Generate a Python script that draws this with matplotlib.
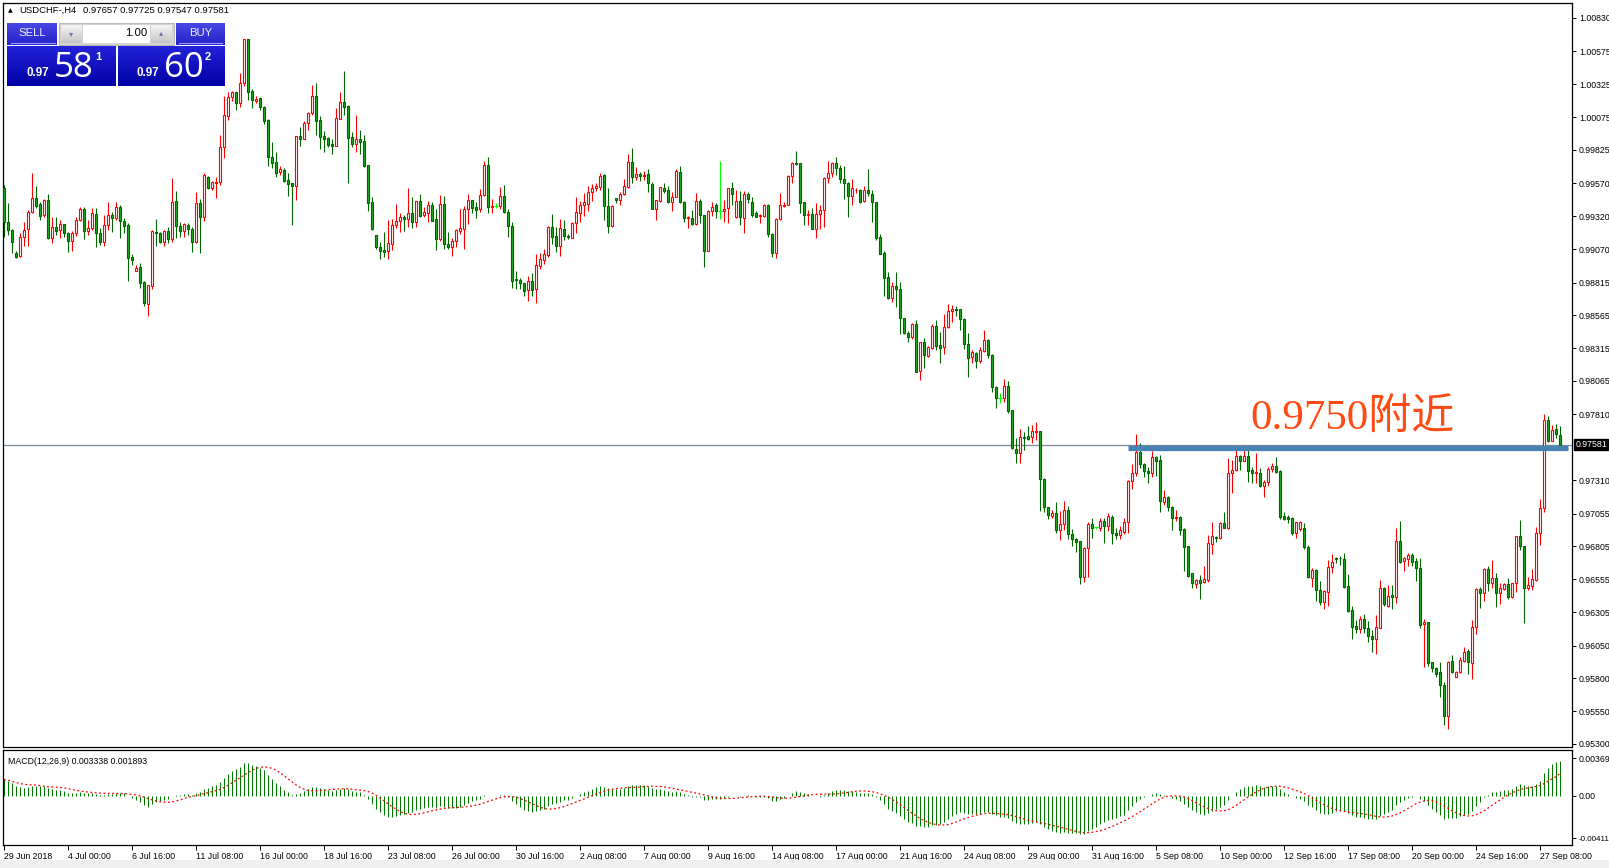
import numpy as np
import matplotlib
matplotlib.use("Agg")
import matplotlib.pyplot as plt
from matplotlib.patches import Rectangle

# ---- data (prices in points, 1 point = 0.00001) ----
symbol = "USDCHF-,H4"
header_ohlc = "0.97657 0.97725 0.97547 0.97581"
bid_price = 0.97581
resistance = 0.97551
resistance_from, resistance_to = 281, 391
note_text = "0.9750附近"

opens = [
    99533, 99279, 99216, 99038, 99018, 99165, 99221, 99350, 99457, 99414,
    99330, 99444, 99152, 99241, 99216, 99259, 99190, 99129, 99190, 99292,
    99376, 99208, 99228, 99338, 99190, 99127, 99254, 99330, 99305, 99391,
    99284, 99254, 99010, 98906, 98931, 98817, 98654, 98792, 99203, 99190,
    99124, 99205, 99145, 99434, 99249, 99208, 99254, 99221, 99127, 99419,
    99317, 99622, 99538, 99574, 99579, 99845, 100086, 100231, 100264, 100186,
    100333, 100668, 100272, 100201, 100218, 100150, 100054, 99772, 99731, 99654,
    99672, 99593, 99571, 99548, 99929, 99911, 100028, 100109, 100236, 100053,
    99929, 99913, 99870, 99857, 100063, 100190, 100160, 99921, 99868, 99906,
    99893, 99708, 99426, 99175, 99088, 99060, 99053, 99111, 99256, 99281,
    99314, 99296, 99342, 99276, 99433, 99329, 99342, 99403, 99296, 99144,
    99411, 99111, 99088, 99129, 99210, 99220, 99372, 99441, 99390, 99372,
    99479, 99710, 99388, 99398, 99400, 99471, 99352, 99248, 98842, 98834,
    98809, 98758, 98827, 98763, 98943, 98987, 99025, 99236, 99167, 99094,
    99223, 99172, 99157, 99269, 99348, 99406, 99416, 99502, 99535, 99540,
    99634, 99398, 99249, 99457, 99446, 99487, 99546, 99733, 99622, 99642,
    99624, 99642, 99568, 99373, 99439, 99533, 99518, 99431, 99469, 99655,
    99429, 99304, 99304, 99261, 99434, 99327, 99058, 99358, 99406, 99363,
    99358, 99381, 99533, 99317, 99436, 99309, 99490, 99429, 99342, 99322,
    99325, 99406, 99183, 99038, 99297, 99401, 99406, 99627, 99728, 99723,
    99426, 99327, 99335, 99220, 99335, 99365, 99609, 99647, 99723, 99685,
    99602, 99571, 99475, 99518, 99518, 99439, 99518, 99490, 99426, 99160,
    99038, 98858, 98700, 98789, 98766, 98543, 98434, 98403, 98500, 98144,
    98363, 98258, 98319, 98484, 98340, 98322, 98474, 98596, 98614, 98611,
    98538, 98345, 98246, 98279, 98220, 98297, 98378, 98263, 98022, 97938,
    97933, 98027, 97842, 97548, 97514, 97636, 97647, 97636, 97680, 97685,
    97317, 97103, 97037, 97063, 96928, 96974, 97083, 96897, 96861, 96846,
    96569, 96795, 96973, 96950, 96948, 96998, 96963, 97031, 96904, 96892,
    96917, 96988, 97303, 97361, 97527, 97433, 97379, 97361, 97483, 97463,
    97146, 97179, 97108, 97019, 97026, 96937, 96808, 96600, 96521, 96546,
    96534, 96549, 96826, 96876, 96866, 96981, 96948, 97361, 97387, 97493,
    97458, 97493, 97387, 97361, 97364, 97268, 97298, 97392, 97420, 97382,
    97034, 97029, 97019, 96904, 96940, 96945, 96803, 96567, 96625, 96470,
    96379, 96460, 96645, 96719, 96719, 96706, 96501, 96320, 96196, 96178,
    96254, 96186, 96122, 96102, 96186, 96485, 96351, 96432, 96417, 96843,
    96696, 96706, 96739, 96694, 96638, 96211, 96227, 95922, 95876, 95846,
    95749, 95516, 95932, 95813, 95848, 95935, 96008, 95919, 96194, 96478,
    96447, 96630, 96523, 96562, 96447, 96483, 96516, 96422, 96529, 96884,
    96808, 96490, 96506, 96549, 96904, 97095, 97768, 97610, 97699, 97657,
]
highs = [
    99558, 99419, 99221, 99058, 99190, 99279, 99368, 99647, 99551, 99431,
    99452, 99490, 99317, 99317, 99292, 99259, 99203, 99208, 99317, 99393,
    99393, 99292, 99381, 99381, 99228, 99330, 99431, 99355, 99426, 99406,
    99305, 99266, 99033, 98949, 98962, 98830, 98797, 99216, 99299, 99203,
    99216, 99241, 99609, 99513, 99279, 99272, 99266, 99241, 99508, 99449,
    99647, 99627, 99591, 99622, 99939, 100236, 100264, 100277, 100269, 100409,
    100668, 100668, 100287, 100236, 100231, 100160, 100059, 99883, 99807, 99703,
    99685, 99647, 99576, 99929, 100002, 100048, 100117, 100320, 100335, 100083,
    99969, 99921, 99911, 100144, 100266, 100426, 100167, 99964, 100091, 99977,
    99939, 99708, 99464, 99177, 99126, 99197, 99291, 99296, 99413, 99342,
    99329, 99535, 99466, 99433, 99489, 99393, 99438, 99431, 99372, 99479,
    99471, 99200, 99152, 99220, 99375, 99398, 99489, 99444, 99426, 99527,
    99743, 99771, 99451, 99418, 99543, 99558, 99372, 99276, 98903, 98852,
    98811, 98867, 98890, 99032, 99037, 99070, 99248, 99337, 99241, 99297,
    99292, 99188, 99276, 99469, 99439, 99495, 99551, 99566, 99576, 99647,
    99642, 99533, 99403, 99462, 99508, 99606, 99794, 99840, 99693, 99660,
    99667, 99678, 99581, 99444, 99546, 99576, 99553, 99508, 99678, 99706,
    99436, 99325, 99368, 99495, 99449, 99332, 99368, 99431, 99419, 99741,
    99444, 99538, 99581, 99520, 99515, 99515, 99508, 99469, 99363, 99337,
    99414, 99414, 99190, 99304, 99495, 99431, 99634, 99736, 99817, 99728,
    99431, 99368, 99386, 99424, 99406, 99617, 99741, 99731, 99774, 99711,
    99703, 99579, 99604, 99538, 99525, 99551, 99680, 99520, 99429, 99183,
    99058, 98898, 98822, 98898, 98822, 98548, 98446, 98507, 98530, 98365,
    98396, 98335, 98502, 98530, 98441, 98576, 98652, 98644, 98639, 98616,
    98543, 98429, 98302, 98289, 98322, 98454, 98385, 98271, 98030, 97971,
    98081, 98068, 97845, 97634, 97700, 97680, 97723, 97730, 97756, 97685,
    97324, 97108, 97083, 97146, 97075, 97154, 97113, 96935, 96871, 96848,
    96800, 96993, 97024, 96955, 97019, 97019, 97062, 97041, 96942, 96960,
    97024, 97308, 97433, 97661, 97590, 97438, 97412, 97534, 97493, 97501,
    97235, 97189, 97113, 97082, 97036, 96942, 96810, 96605, 96557, 96584,
    96658, 96892, 96991, 96881, 96988, 97069, 97476, 97463, 97539, 97501,
    97577, 97570, 97412, 97514, 97400, 97311, 97412, 97438, 97483, 97387,
    97069, 97044, 97026, 96993, 97001, 96981, 96816, 96638, 96630, 96541,
    96473, 96701, 96747, 96727, 96732, 96752, 96595, 96351, 96244, 96275,
    96287, 96239, 96168, 96282, 96549, 96498, 96511, 96511, 96948, 96998,
    96727, 96752, 96752, 96719, 96714, 96252, 96232, 95927, 95889, 95922,
    95775, 95932, 95978, 95856, 95965, 96041, 96021, 96244, 96485, 96498,
    96643, 96658, 96701, 96605, 96529, 96529, 96562, 96529, 96884, 97006,
    96810, 96574, 96630, 96955, 97166, 97811, 97798, 97730, 97737, 97725,
]
lows = [
    99165, 99178, 99038, 99000, 99013, 99094, 99096, 99348, 99381, 99292,
    99317, 99147, 99114, 99178, 99152, 99165, 99046, 99058, 99172, 99287,
    99147, 99178, 99216, 99089, 99101, 99094, 99216, 99203, 99292, 99152,
    99190, 98830, 98949, 98906, 98776, 98637, 98563, 98769, 99094, 99114,
    99094, 99114, 99127, 99157, 99165, 99160, 99178, 99051, 99114, 99043,
    99287, 99525, 99520, 99462, 99558, 99767, 100054, 100201, 100130, 100150,
    100312, 100206, 100142, 100180, 100130, 100023, 99706, 99685, 99621, 99634,
    99583, 99477, 99256, 99444, 99855, 99911, 99977, 100091, 99939, 99835,
    99812, 99850, 99791, 99855, 100058, 100091, 99576, 99850, 99812, 99794,
    99698, 99362, 99215, 99068, 98997, 99007, 98997, 99063, 99228, 99202,
    99207, 99240, 99228, 99240, 99317, 99317, 99276, 99281, 99065, 99131,
    99073, 99070, 99020, 99083, 99182, 99073, 99263, 99342, 99304, 99355,
    99474, 99347, 99342, 99385, 99375, 99347, 99164, 98776, 98768, 98763,
    98715, 98677, 98712, 98662, 98918, 98956, 99012, 99109, 99050, 99017,
    99139, 99144, 99152, 99190, 99279, 99322, 99363, 99439, 99515, 99520,
    99292, 99195, 99236, 99421, 99408, 99485, 99538, 99576, 99599, 99591,
    99596, 99508, 99373, 99292, 99431, 99495, 99419, 99363, 99464, 99419,
    99279, 99233, 99254, 99251, 99266, 98934, 99056, 99325, 99309, 99299,
    99274, 99271, 99406, 99304, 99254, 99195, 99419, 99317, 99312, 99266,
    99317, 99165, 99007, 99000, 99292, 99393, 99403, 99571, 99713, 99348,
    99254, 99254, 99220, 99152, 99221, 99236, 99571, 99622, 99635, 99571,
    99449, 99317, 99406, 99495, 99419, 99432, 99477, 99274, 99140, 99030,
    98716, 98693, 98665, 98627, 98421, 98424, 98360, 98383, 98132, 98073,
    98167, 98251, 98312, 98302, 98205, 98269, 98472, 98512, 98563, 98454,
    98309, 98099, 98200, 98167, 98205, 98289, 98238, 97979, 97862, 97900,
    97903, 97824, 97550, 97443, 97443, 97540, 97616, 97591, 97616, 97075,
    97070, 97012, 97019, 96910, 96854, 96931, 96859, 96810, 96760, 96516,
    96531, 96574, 96866, 96935, 96922, 96833, 96925, 96821, 96861, 96861,
    96899, 96910, 97240, 97341, 97400, 97336, 97285, 97336, 97341, 97069,
    97120, 97077, 96930, 97001, 96892, 96618, 96574, 96486, 96490, 96402,
    96523, 96536, 96744, 96841, 96859, 96942, 96935, 97209, 97379, 97387,
    97455, 97298, 97290, 97285, 97260, 97184, 97268, 97374, 97367, 97011,
    97006, 96986, 96892, 96871, 96925, 96783, 96562, 96498, 96389, 96359,
    96328, 96353, 96605, 96681, 96663, 96491, 96308, 96100, 96148, 96148,
    96148, 96079, 96003, 95985, 96181, 96351, 96346, 96331, 96371, 96676,
    96620, 96656, 96656, 96541, 96186, 95889, 95894, 95851, 95813, 95660,
    95445, 95412, 95843, 95808, 95843, 95927, 95830, 95792, 96135, 96338,
    96389, 96465, 96491, 96346, 96364, 96473, 96404, 96414, 96460, 96777,
    96224, 96473, 96473, 96544, 96816, 97069, 97603, 97610, 97633, 97547,
]
closes = [
    99279, 99216, 99122, 99013, 99165, 99216, 99350, 99457, 99401, 99325,
    99444, 99152, 99241, 99208, 99259, 99190, 99134, 99190, 99292, 99376,
    99208, 99228, 99343, 99190, 99127, 99254, 99330, 99305, 99391, 99284,
    99249, 99005, 98990, 98929, 98809, 98662, 98797, 99208, 99190, 99124,
    99205, 99145, 99426, 99249, 99208, 99259, 99221, 99127, 99419, 99317,
    99632, 99538, 99579, 99579, 99850, 100092, 100231, 100264, 100186, 100333,
    100668, 100269, 100206, 100213, 100150, 100048, 99774, 99723, 99652, 99680,
    99591, 99568, 99548, 99929, 99911, 100028, 100109, 100236, 100048, 99926,
    99906, 99865, 99857, 100066, 100190, 100154, 99918, 99868, 99906, 99888,
    99703, 99423, 99220, 99083, 99053, 99050, 99114, 99253, 99281, 99314,
    99296, 99342, 99279, 99433, 99324, 99350, 99403, 99286, 99149, 99416,
    99111, 99088, 99131, 99215, 99228, 99375, 99444, 99380, 99370, 99479,
    99710, 99388, 99398, 99398, 99471, 99355, 99248, 98829, 98832, 98809,
    98753, 98827, 98758, 98946, 98992, 99032, 99241, 99165, 99094, 99228,
    99172, 99162, 99269, 99353, 99406, 99429, 99502, 99535, 99548, 99627,
    99401, 99249, 99398, 99444, 99490, 99548, 99733, 99622, 99642, 99624,
    99637, 99571, 99373, 99441, 99540, 99515, 99426, 99469, 99665, 99426,
    99304, 99314, 99259, 99434, 99327, 99058, 99360, 99388, 99360, 99363,
    99375, 99533, 99487, 99436, 99312, 99490, 99449, 99332, 99317, 99332,
    99406, 99183, 99038, 99297, 99406, 99406, 99627, 99723, 99718, 99419,
    99327, 99335, 99226, 99335, 99368, 99612, 99647, 99723, 99685, 99602,
    99571, 99477, 99533, 99523, 99432, 99518, 99495, 99426, 99157, 99030,
    98853, 98700, 98789, 98764, 98543, 98429, 98403, 98500, 98137, 98363,
    98261, 98322, 98484, 98332, 98319, 98474, 98596, 98614, 98604, 98535,
    98345, 98238, 98286, 98220, 98299, 98375, 98261, 98022, 97933, 97938,
    98027, 97839, 97553, 97514, 97636, 97629, 97626, 97685, 97685, 97317,
    97103, 97045, 97063, 96928, 96974, 97083, 96900, 96859, 96841, 96574,
    96795, 96973, 96942, 96950, 96998, 96963, 97036, 96904, 96889, 96930,
    96991, 97303, 97361, 97527, 97430, 97379, 97361, 97483, 97458, 97153,
    97179, 97108, 97019, 97029, 96932, 96803, 96579, 96529, 96546, 96529,
    96557, 96828, 96884, 96866, 96981, 96948, 97366, 97387, 97493, 97455,
    97493, 97382, 97361, 97374, 97268, 97293, 97392, 97420, 97374, 97031,
    97016, 97016, 96904, 96988, 96991, 96803, 96574, 96625, 96473, 96384,
    96463, 96645, 96686, 96711, 96717, 96498, 96315, 96194, 96178, 96252,
    96186, 96120, 96102, 96188, 96485, 96364, 96427, 96417, 96843, 96689,
    96714, 96739, 96689, 96638, 96206, 96227, 95919, 95876, 95833, 95749,
    95516, 95922, 95851, 95851, 95937, 96003, 95927, 96194, 96478, 96447,
    96630, 96523, 96562, 96447, 96485, 96516, 96422, 96529, 96884, 96808,
    96490, 96508, 96559, 96904, 97095, 97768, 97610, 97692, 97659, 97581,
]

date_labels = ["29 Jun 2018", "4 Jul 00:00", "6 Jul 16:00", "11 Jul 08:00", "16 Jul 00:00",
               "18 Jul 16:00", "23 Jul 08:00", "26 Jul 00:00", "30 Jul 16:00", "2 Aug 08:00",
               "7 Aug 00:00", "9 Aug 16:00", "14 Aug 08:00", "17 Aug 00:00", "21 Aug 16:00",
               "24 Aug 08:00", "29 Aug 00:00", "31 Aug 16:00", "5 Sep 08:00", "10 Sep 00:00",
               "12 Sep 16:00", "17 Sep 08:00", "20 Sep 00:00", "24 Sep 16:00", "27 Sep 08:00"]
bars_per_label = 16
price_ticks = ["1.00830", "1.00575", "1.00325", "1.00075", "0.99825", "0.99570", "0.99320",
               "0.99070", "0.98815", "0.98565", "0.98315", "0.98065", "0.97810", "0.97310",
               "0.97055", "0.96805", "0.96555", "0.96305", "0.96050", "0.95800", "0.95550",
               "0.95300"]
macd_ticks = ["0.00369", "0.00", "-0.00411"]
macd_text = "MACD(12,26,9) 0.003338 0.001893"
macd_start = 0.0016   # main line value at the first bar

o = np.array(opens) / 1e5
h = np.array(highs) / 1e5
l = np.array(lows) / 1e5
c = np.array(closes) / 1e5
assert len(o) == len(h) == len(l) == len(c)
n = len(c)
x = np.arange(n)

# MACD(12,26,9) as MT4 draws it: main = EMA12 - EMA26, signal = SMA9 of main
ema12 = np.empty(n)
ema26 = np.empty(n)
ema12[0], ema26[0] = c[0], c[0] - macd_start
for i in range(1, n):
    ema12[i] = ema12[i - 1] + 2 / 13 * (c[i] - ema12[i - 1])
    ema26[i] = ema26[i - 1] + 2 / 27 * (c[i] - ema26[i - 1])
macd = ema12 - ema26
signal = np.array([macd[max(0, i - 8):i + 1].mean() for i in range(n)])

# ---- figure ----
W, H = 1609, 868
fig = plt.figure(figsize=(W / 100, H / 100), dpi=100)
fig.patch.set_facecolor("white")
tick_font = dict(family="Liberation Sans", size=6.3)


def box(x0, y0, x1, y1):
    return [x0 / W, 1 - y1 / H, (x1 - x0) / W, (y1 - y0) / H]


ax = fig.add_axes(box(3, 3, 1572, 747))
ax2 = fig.add_axes(box(3, 750, 1572, 845), sharex=ax)

up = c > o
dn = c < o
dj = c == o
wick_col = np.where(up, "#ff0000", np.where(dn, "#006400", "#00ff00"))
ax.vlines(x, np.minimum(l, np.minimum(o, c)), np.maximum(h, np.maximum(o, c)),
          colors=wick_col, linewidth=0.8, zorder=2)
ax.bar(x[up], (c - o)[up], bottom=o[up], width=0.6, facecolor="white",
       edgecolor="#ff0000", linewidth=0.8, zorder=3)
ax.bar(x[dn], (o - c)[dn], bottom=c[dn], width=0.6, facecolor="#22aa22",
       edgecolor="#006400", linewidth=0.8, zorder=3)
ax.hlines(c[dj], x[dj] - 0.4, x[dj] + 0.4, colors="#00ff00", linewidth=0.8, zorder=3)

ax.axhline(bid_price, color="#7a8a99", linewidth=0.9, zorder=1)
ax.hlines(resistance, resistance_from, resistance_to, colors="#4682b4", linewidth=3.8, zorder=4)
ax.text(311.5, 0.97692, note_text, family=["Liberation Serif", "Noto Sans CJK SC"],
        fontsize=31, color="#ff4a12", ha="left", va="baseline", zorder=5)

ax.set_xlim(-0.25, 392)
ax.set_ylim(0.95277, 1.00944)
ax.yaxis.tick_right()
ax.set_yticks([float(t) for t in price_ticks])
ax.set_yticklabels(price_ticks, **tick_font)
ax.tick_params(axis="y", direction="out", length=3, width=0.7, pad=2)
ax.tick_params(axis="x", bottom=False, labelbottom=False)
ax.annotate(f"{bid_price:.5f}", xy=(1, bid_price), xycoords=("axes fraction", "data"),
            xytext=(2.5, 0), textcoords="offset points", va="center", ha="left",
            color="white", fontsize=6.3, family="Liberation Sans",
            bbox=dict(boxstyle="square,pad=0.12", facecolor="black", edgecolor="black"))

# MACD window
ax2.vlines(x, 0, macd, colors="#007800", linewidth=0.75)
ax2.plot(x, signal, color="#ff0000", linestyle=(0, (1.5, 2.0)), linewidth=0.9)
ax2.set_ylim(-0.00479, 0.00447)
ax2.yaxis.tick_right()
ax2.set_yticks([float(t) for t in macd_ticks])
ax2.set_yticklabels(macd_ticks, **tick_font)
ax2.tick_params(axis="y", direction="out", length=3, width=0.7, pad=1.5)
ax2.get_yticklabels()[-1].set_fontsize(5.8)
ax2.set_xticks(np.arange(len(date_labels)) * bars_per_label)
ax2.set_xticklabels(date_labels, **tick_font)
ax2.tick_params(axis="x", direction="out", length=3.5, width=0.7, pad=1.5)
for lab in ax2.get_xticklabels():
    lab.set_horizontalalignment("left")
ax2.text(0.003, 0.88, macd_text, transform=ax2.transAxes, fontsize=6.3,
         family="Liberation Sans", va="center", ha="left")

for a in (ax, ax2):
    for s in a.spines.values():
        s.set_color("black")
        s.set_linewidth(0.9)

# ---- one-click trading panel and header (pixel overlay) ----
ov = fig.add_axes([0, 0, 1, 1], zorder=10)
ov.patch.set_alpha(0)
ov.axis("off")


def grad(x0, y0, x1, y1, top, bot):
    t = np.linspace(0, 1, 40)[:, None, None]
    a = np.array(matplotlib.colors.to_rgb(top))
    b = np.array(matplotlib.colors.to_rgb(bot))
    img = a * (1 - t) + b * t
    ov.imshow(img, extent=(x0, x1, y1, y0), aspect="auto", interpolation="bilinear", zorder=1)


ov.text(10, 10.5, "▲", fontsize=4.5, ha="center", va="center", family="DejaVu Sans")
ov.text(19, 10.5, symbol, fontsize=6.8, ha="left", va="center", family="Liberation Sans")
ov.text(83, 10.5, header_ohlc, fontsize=6.8, ha="left", va="center", family="Liberation Sans")

# tabs
grad(7, 23, 57, 45, "#4848e6", "#2222c8")
grad(176, 23, 225, 45, "#4848e6", "#2222c8")
ov.plot([11, 55], [43, 43], color="#9a9aff", linewidth=0.8, zorder=2)
ov.plot([179, 222], [43, 43], color="#9a9aff", linewidth=0.8, zorder=2)
ov.text(32, 33.5, "SELL", color="#f0f0ff", fontsize=8.2, ha="center", va="center",
        family="Liberation Sans", zorder=3)
ov.text(200.5, 33.5, "BUY", color="#f0f0ff", fontsize=8.2, ha="center", va="center",
        family="Liberation Sans", zorder=3)
# lot field
ov.add_patch(Rectangle((59, 23), 115, 22, facecolor="#d4d4d4", edgecolor="#b8b8b8", lw=0.8, zorder=1))
ov.add_patch(Rectangle((83, 25), 67, 18, facecolor="white", edgecolor="none", zorder=2))
grad(61, 25, 82, 43, "#f4f4f4", "#c6c6c6")
grad(151, 25, 172, 43, "#f4f4f4", "#c6c6c6")
ov.text(71.5, 34, "▾", fontsize=6, color="#6a78a8", ha="center", va="center",
        family="DejaVu Sans", zorder=3)
ov.text(161.5, 33, "▴", fontsize=6, color="#6a78a8", ha="center", va="center",
        family="DejaVu Sans", zorder=3)
ov.text(147, 33.5, "1.00", fontsize=8.2, ha="right", va="center", family="Liberation Sans", zorder=3)
# price boxes
grad(7, 46, 116, 86, "#2323d8", "#0000a6")
grad(118, 46, 225, 86, "#2323d8", "#0000a6")
for x0, big, sup in ((27, "58", "1"), (137, "60", "2")):
    ov.text(x0, 76.5, "0.97", color="white", fontsize=8.4, fontweight="bold",
            ha="left", va="baseline", family="Liberation Sans", zorder=3)
    ov.text(x0 + 27, 77, big, color="white", fontsize=25, ha="left", va="baseline",
            family="Open Sans", zorder=3)
    ov.text(x0 + 68, 57.5, sup, color="white", fontsize=8, fontweight="bold",
            ha="left", va="center", family="Liberation Sans", zorder=3)

ov.add_patch(Rectangle((0, 860), W, 8, facecolor="#efefef", edgecolor="none", zorder=0))
ov.set_xlim(0, W)
ov.set_ylim(H, 0)

fig.savefig("out.png", dpi=100)
